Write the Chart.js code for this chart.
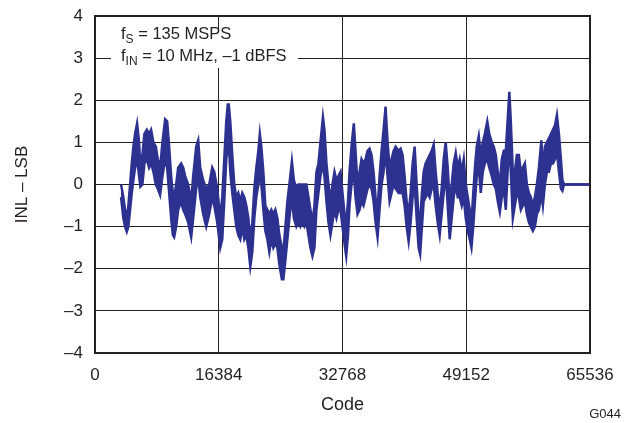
<!DOCTYPE html>
<html>
<head>
<meta charset="utf-8">
<script src="https://cdn.jsdelivr.net/npm/chart.js@4/dist/chart.umd.min.js"></script>
<style>
  html, body { margin: 0; padding: 0; background: #fff; }
  #wrap { width: 629px; height: 423px; }
</style>
</head>
<body>
<div id="wrap"><canvas id="inlChart" width="629" height="423"></canvas></div>
<script>
// Code positions, with upper and lower edge of the INL band (LSB)
const codes = [
    3449, 3754, 3980, 4205, 4418, 4643, 4869, 5081, 5306, 5572,
    5837, 6010, 6275, 6540, 6859, 7164, 7429, 7734, 8053, 8318,
    8623, 8928, 9286, 9552, 9817, 10082, 10308, 10480, 10745, 11011,
    11409, 11674, 11939, 12337, 12735, 13001, 13399, 13664, 13929, 14327,
    14725, 15123, 15521, 15787, 16185, 16583, 16848, 17113, 17378, 17577,
    17710, 17909, 18174, 18440, 18705, 18970, 19236, 19501, 19766, 20032,
    20297, 20562, 20828, 21093, 21358, 21624, 21823, 22022, 22287, 22552,
    22818, 23083, 23348, 23613, 23879, 24144, 24409, 24741, 24940, 25205,
    25471, 25736, 26068, 26333, 26665, 26930, 27195, 27461, 27726, 27991,
    28257, 28522, 28787, 29053, 29318, 29583, 29849, 30180, 30379, 30645,
    30910, 31175, 31440, 31706, 31971, 32236, 32502, 32767, 33032, 33258,
    33497, 33696, 33961, 34266, 34492, 34757, 35022, 35288, 35553, 35818,
    36084, 36349, 36614, 36879, 37145, 37410, 37675, 37941, 38206, 38471,
    38737, 39002, 39267, 39533, 39798, 40196, 40461, 40727, 40992, 41257,
    41523, 41788, 42053, 42319, 42584, 42849, 43048, 43247, 43512, 43778,
    44043, 44308, 44574, 44839, 45104, 45370, 45635, 45900, 46166, 46431,
    46696, 46962, 47227, 47492, 47758, 48023, 48288, 48554, 48819, 49084,
    49350, 49615, 49840, 50079, 50344, 50543, 50809, 51074, 51339, 51605,
    51936, 52201, 52533, 52798, 53064, 53329, 53595, 53860, 54125, 54391,
    54656, 54855, 55054, 55319, 55585, 55850, 56115, 56381, 56646, 56911,
    57177, 57442, 57707, 57973, 58238, 58503, 58769, 59100, 59299, 59564,
    59830, 60095, 60360, 60626, 60891, 61156, 61422, 61687, 61886, 62085,
    65536
];
const inlHigh = [
    0, -0.3, -0.6, -0.8, -0.5, 0, 0.5, 0.9, 1.2, 1.45,
    1.0, 0.4, 0.7, 1.2, 1.3, 1.2, 1.3, 1.0, 0.9, 0.6,
    0.4, 1.0, 1.55, 1.5, 0.9, 0.2, -0.2, -0.3, 0.0, 0.4,
    0.5, 0.4, 0.2, 0.0, -0.4, 0.2, 0.9, 1.05, 0.4, 0.1,
    -0.1, 0.0, 0.4, 0.3, -0.1, -0.8, -0.3, 0.6, 1.5, 1.9,
    1.9, 1.5, 0.7, 0.0, -0.3, -0.2, -0.4, -0.2, -0.3, -0.5,
    -0.8, -1.3, -0.9, -0.1, 0.4, 0.8, 1.2, 0.9, 0.3, -0.5,
    -0.6, -0.7, -0.6, -0.7, -0.6, -0.8, -1.2, -1.5, -1.6, -1.0,
    -0.4, 0.0, 0.55, 0.1, -0.1, 0.0, 0.0, 0.0, 0.0, 0.0,
    -0.3, -0.6, -0.9, -0.5, 0.3, 0.5, 1.0, 1.6, 1.3, 0.5,
    0.0, -0.4, 0.0, 0.3, 0.1, 0.2, 0.3, -0.2, -0.7, -0.9,
    -0.4, 0.3, 0.9, 1.45, 0.8, 0.0, 0.3, 0.6, 0.5, 0.6,
    0.8, 0.85, 0.7, 0.3, -0.3, -0.6, 0.2, 0.8, 1.3, 1.85,
    1.0, 0.4, 0.6, 0.8, 0.9, 0.8, 0.85, 0.7, 0.2, -0.4,
    -0.7, -0.2, 0.5, 0.9, 0.0, -0.8, -0.9, -0.3, 0.3, 0.5,
    0.6, 0.7, 0.8, 0.95, 0.3, -0.2, -0.6, -0.1, 0.6, 1.0,
    0.4, -0.4, 0.0, 0.5, 0.75, 0.4, 0.6, 0.3, 0.6, 0.0,
    -0.3, -0.6, -0.9, -0.2, 0.5, 0.9, 1.15, 0.7, 1.0, 1.2,
    1.5, 1.2, 1.0, 0.9, 0.7, 0.3, 0.0, 0.6, 0.8, 0.8,
    1.6, 2.2, 1.5, 0.3, 0.3, 0.7, 0.7, 0.3, 0.4, 0.5,
    0.0, -0.2, -0.3, -0.5, -0.3, 0.0, 0.4, 1.05, 0.3, 0.9,
    1.0, 1.1, 1.2, 1.3, 1.4, 1.65, 1.2, 0.6, 0.1, 0,
    0
];
const inlLow = [
    -0.3, -0.8, -1.0, -1.12, -1.0, -0.6, -0.2, 0.1, 0.4, 0.6,
    0.2, -0.05, 0.0, 0.5, 0.6, 0.4, 0.5, 0.3, 0.0, -0.1,
    -0.25, 0.2, 0.6, 0.4, -0.2, -0.8, -1.2, -1.25, -1.0, -0.6,
    -0.4, -0.6, -0.7, -0.9, -1.25, -0.8, -0.1, 0.2, -0.3, -0.7,
    -1.0, -0.7, -0.3, -0.5, -0.9, -1.5, -1.3, -0.4, 0.6, 0.9,
    1.0, 0.3, -0.2, -0.6, -1.0, -1.2, -1.3, -1.0, -1.3, -1.2,
    -1.5, -1.95, -1.6, -0.8, -0.3, 0.0, 0.3, 0.0, -0.6, -1.1,
    -1.3, -1.6, -1.3, -1.5, -1.4, -1.5, -1.9, -2.25, -2.25, -1.8,
    -1.3, -0.8, -0.3, -0.8, -1.0, -0.9, -1.0, -0.9, -1.0, -0.9,
    -1.2, -1.5, -1.7, -1.5, -0.6, -0.2, 0.2, 0.5, 0.2, -0.4,
    -0.9, -1.2, -0.9, -0.6, -0.8, -0.6, -0.6, -1.0, -1.4, -1.7,
    -1.2, -0.5, 0.0, 0.3, -0.3, -0.7, -0.6, -0.4, -0.5, -0.3,
    -0.1, 0.0, -0.1, -0.4, -0.9, -1.25, -0.6, 0.0, 0.3, 0.8,
    0.2, -0.4, -0.2, 0.0, -0.1, -0.2, -0.2, -0.2, -0.5, -1.0,
    -1.35, -0.9, -0.3, 0.0, -0.8, -1.5, -1.65, -1.1, -0.4, -0.3,
    -0.2, -0.3, -0.1, 0.0, -0.5, -0.9, -1.2, -0.7, -0.2, 0.3,
    -0.5, -1.3, -0.8, -0.3, 0.0, -0.3, -0.3, -0.5, -0.3, -0.8,
    -1.1, -1.3, -1.5, -1.0, -0.3, 0.2, 0.4, -0.2, 0.3, 0.5,
    0.6, 0.4, 0.2, 0.0, -0.1, -0.4, -0.65, -0.3, -0.1, -0.6,
    0.4, 1.0, 0.3, -0.8, -0.5, -0.2, -0.3, -0.6, -0.5, -0.4,
    -0.7, -0.9, -1.0, -1.1, -1.0, -0.7, -0.6, -0.2, -0.5, 0.0,
    0.3, 0.3, 0.5, 0.5, 0.6, 0.8, 0.3, -0.1, -0.15, 0,
    0
];
const xTicks = [0, 16384, 32768, 49152, 65536];
const yTicks = [-4, -3, -2, -1, 0, 1, 2, 3, 4];

const upper = codes.map((c, i) => ({x: c, y: inlHigh[i]}));
const lower = codes.map((c, i) => ({x: c, y: inlLow[i]}));

const FONT = '"Liberation Sans", Arial, sans-serif';
const INK = '#231f20';
const BLUE = '#2d3190';
const dash = v => v < 0 ? '\u2013' + Math.abs(v) : String(v);

// Note box, frame and figure id
const extras = {
    id: 'extras',
    afterDraw(chart) {
        const ctx = chart.ctx;
        const a = chart.chartArea;
        ctx.save();
        ctx.fillStyle = '#fff';
        ctx.fillRect(111, 29, 187, 39);
        ctx.fillStyle = INK;
        ctx.textBaseline = 'alphabetic';
        ctx.textAlign = 'left';
        const line = (y, sub, rest) => {
            let x = 121;
            ctx.font = '16.5px ' + FONT;
            ctx.fillText('f', x, y);
            x += ctx.measureText('f').width;
            ctx.font = '12px ' + FONT;
            ctx.fillText(sub, x, y + 4);
            x += ctx.measureText(sub).width;
            ctx.font = '16.5px ' + FONT;
            ctx.fillText(rest, x, y);
        };
        line(39, 'S', ' = 135 MSPS');
        line(61, 'IN', ' = 10 MHz, \u20131 dBFS');

        ctx.strokeStyle = INK;
        ctx.lineWidth = 2;
        ctx.strokeRect(a.left, a.top, a.right - a.left, a.bottom - a.top);

        ctx.font = '13px ' + FONT;
        ctx.textAlign = 'right';
        ctx.fillText('G044', 621, 418);
        ctx.restore();
    }
};

new Chart(document.getElementById('inlChart').getContext('2d'), {
    type: 'line',
    data: {
        datasets: [{
            label: 'INL upper',
            data: upper,
            borderColor: BLUE,
            backgroundColor: BLUE,
            borderWidth: 2.5,
            pointRadius: 0,
            tension: 0,
            fill: '+1'
        }, {
            label: 'INL lower',
            data: lower,
            borderColor: BLUE,
            backgroundColor: BLUE,
            borderWidth: 2.5,
            pointRadius: 0,
            tension: 0,
            fill: false
        }]
    },
    options: {
        responsive: false,
        animation: false,
        layout: {padding: {top: 16, right: 39, left: 0, bottom: 0}},
        plugins: {
            legend: {display: false},
            tooltip: {enabled: false}
        },
        scales: {
            x: {
                type: 'linear',
                min: 0,
                max: 65536,
                afterFit: s => { s.height = 70; },
                afterBuildTicks: s => { s.ticks = xTicks.map(v => ({value: v})); },
                grid: {color: INK, lineWidth: 1, drawTicks: false},
                border: {color: INK, width: 2},
                ticks: {
                    color: INK,
                    padding: 12,
                    maxRotation: 0,
                    autoSkip: false,
                    font: {family: FONT, size: 17},
                    callback: v => String(v)
                },
                title: {
                    display: true,
                    text: 'Code',
                    color: INK,
                    padding: {top: 0, bottom: 7},
                    font: {family: FONT, size: 18}
                }
            },
            y: {
                min: -4,
                max: 4,
                afterFit: s => { s.width = 95; s.paddingTop = 0; s.paddingBottom = 0; },
                afterBuildTicks: s => { s.ticks = yTicks.map(v => ({value: v})); },
                grid: {color: INK, lineWidth: 1, drawTicks: false},
                border: {color: INK, width: 2},
                ticks: {
                    color: INK,
                    padding: 12,
                    font: {family: FONT, size: 17},
                    callback: v => dash(v)
                },
                title: {
                    display: true,
                    text: 'INL \u2013 LSB',
                    color: INK,
                    padding: {top: 12, bottom: 0},
                    font: {family: FONT, size: 17}
                }
            }
        }
    },
    plugins: [extras]
});
</script>
</body>
</html>
